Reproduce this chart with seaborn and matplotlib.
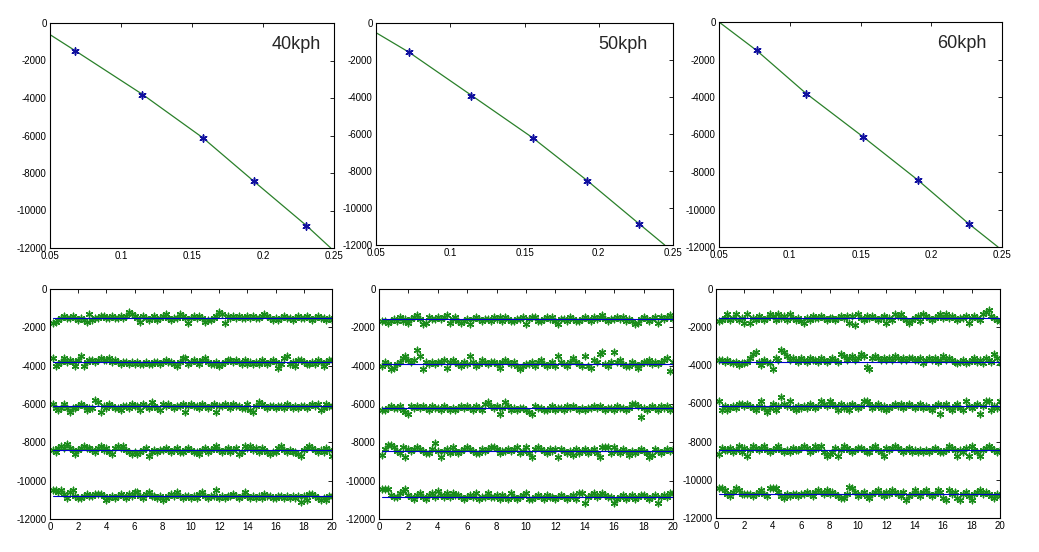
import numpy as np
import pandas as pd
import matplotlib
matplotlib.use("Agg")
import matplotlib.pyplot as plt
import seaborn as sns

sns.set_style("white")
plt.rcParams['font.family'] = ['Liberation Sans', 'DejaVu Sans']
plt.rcParams['axes.unicode_minus'] = False

#==============================================================================
# DATA - top row: measured points (blue stars) and fitted curve (green)
#==============================================================================
speeds = ['40kph', '50kph', '60kph']

pts_x_40 = [0.0676, 0.115, 0.1576, 0.194, 0.2305]
pts_y_40 = [-1493, -3822, -6133, -8444, -10809]
fit_x_40 = [0.05, 0.0676, 0.115, 0.1576, 0.194, 0.2305, 0.2477]
fit_y_40 = [-620, -1470, -3800, -6120, -8470, -10800, -12000]

pts_x_50 = [0.072, 0.1139, 0.1556, 0.1924, 0.2271]
pts_y_50 = [-1583, -3921, -6223, -8525, -10845]
fit_x_50 = [0.05, 0.072, 0.1139, 0.1556, 0.1924, 0.2271, 0.2444]
fit_y_50 = [-522, -1570, -3890, -6210, -8530, -10850, -12000]

pts_x_60 = [0.0768, 0.1112, 0.1521, 0.1907, 0.2265]
pts_y_60 = [-1511, -3822, -6133, -8444, -10756]
fit_x_60 = [0.05, 0.0768, 0.1112, 0.1521, 0.1907, 0.2265, 0.2472]
fit_y_60 = [0, -1530, -3790, -6140, -8440, -10760, -12000]

#==============================================================================
# DATA - bottom row: time histories (offsets from the level, in units of 100)
#==============================================================================
time_step = 0.2
levels_40 = [-1500, -3800, -6100, -8400, -10800]
levels_50 = [-1550, -3900, -6200, -8450, -10850]
levels_60 = [-1500, -3800, -6150, -8450, -10750]

dev_40_1 = [-3,-2,-1,0,1,0,0,1,0,-1, 0,-1,-2,2,-1,0,0,1,1,0, 0,1,0,0,1,0,1,3,2,1, 0,-2,1,0,-1,0,1,-1,0,1,
            2,0,-1,0,0,2,1,0,-3,0, 1,0,1,0,-2,-1,-1,0,1,3, 2,-3,1,0,1,0,1,0,0,1, 0,1,0,0,1,2,1,0,-1,0,
            -1,0,1,0,0,-1,0,1,0,0, 1,0,-1,0,1,0,0,-1,0,-1]
dev_40_2 = [2,-2,-1,0,2,0,1,0,-2,1, 3,-2,0,1,1,0,1,2,1,1, 2,0,1,0,-1,0,0,-1,0,-1, 0,-1,-1,0,-1,-1,0,0,-1,0,
            1,0,0,-1,-2,0,2,2,-1,0, 1,0,-1,1,2,0,-1,-1,0,-2, -1,0,1,1,0,1,0,-1,1,-1, 0,-1,0,-1,1,0,-1,0,1,0,
            -3,-1,2,3,-1,0,-2,1,1,0, -1,-1,0,-1,1,0,-2,0,1,1]
dev_40_3 = [1,-1,-2,-1,1,-1,-3,-1,-1,0, 1,0,-2,-1,-1,3,2,-3,0,-1, 1,0,-1,-1,-2,0,0,-1,1,0, 0,-2,1,0,-1,2,0,-1,-2,1,
            0,1,0,-1,0,0,1,-3,0,1, 0,0,-1,1,0,-1,0,1,-3,0, 0,1,0,-1,1,0,0,-1,-1,1, -2,-3,0,2,1,0,-1,0,0,-1,
            0,0,-1,1,0,-1,0,-1,0,0, -1,0,1,0,1,-2,-1,1,0,0]
dev_40_4 = [0,-1,1,2,1,3,1,0,-2,0, 1,2,1,1,0,-1,1,2,0,1, -1,-2,1,2,1,2,0,-1,-2,-1, -2,-1,0,1,-3,-1,0,-1,0,0,
            1,0,-1,0,1,-1,-1,0,1,0, -1,-1,-2,0,1,-1,0,1,2,0, -1,0,1,-1,0,1,-2,-1,2,1, 2,0,1,-1,1,0,-1,-2,-1,-1,
            1,2,0,-1,0,-1,-1,-2,-3,0, 1,2,1,0,-1,0,-1,1,0,-3]
dev_40_5 = [3,3,2,3,1,-1,2,3,0,-1, -1,0,1,0,0,1,1,1,0,-2, -1,0,-1,0,1,0,-1,1,0,2, 2,0,-1,1,2,0,0,-1,0,-2,
            -1,0,1,0,2,0,-1,0,0,-1, 0,-1,1,2,0,-1,0,0,3,-1, 0,-1,0,0,1,0,-1,0,2,0, -1,0,-1,0,-1,1,0,0,-1,-1,
            0,0,-1,0,-1,0,-1,0,-3,0, -2,1,1,0,-1,-2,-1,-2,0,0]

dev_50_1 = [-1,-1,-2,-1,0,-1,1,-1,0,-2, 0,1,2,0,-3,-2,1,0,0,1, 0,1,2,-2,0,1,-1,-2,-1,0, -3,0,1,0,-1,0,0,-1,1,0,
            1,-1,1,0,-1,-1,0,0,1,-3, 0,1,1,-1,-1,0,1,0,1,-1, -3,0,0,-1,1,0,-1,-1,0,1, 0,-1,1,0,1,2,0,-1,0,0,
            1,0,1,-1,0,-1,-3,-2,0,1, 0,-1,0,1,-2,1,0,1,2,0]
dev_50_2 = [-1,1,0,-3,-2,0,1,3,4,2, 1,2,7,4,-3,1,0,1,0,1, 1,2,-2,1,2,1,0,-1,1,0, 4,1,-1,0,2,1,0,1,1,0,
            -2,1,2,1,0,1,-1,-3,-1,0, 0,1,-1,1,2,0,-1,0,1,-1, 4,1,0,-1,1,3,1,0,-1,4, -1,-2,2,1,5,6,0,-1,1,6,
            1,2,0,-1,-1,1,0,-2,0,1, 1,2,0,1,0,1,2,3,-4,1]
dev_50_3 = [-1,-1,0,1,0,0,1,-1,-2,-3, 1,0,1,0,1,0,-1,1,0,0, -1,1,0,-1,0,-1,0,1,0,1, 0,-1,1,0,-1,2,3,1,0,1,
            -3,0,3,1,-1,0,-1,0,0,-1, -2,-3,1,0,0,-1,-1,0,1,-1, 0,0,-1,1,0,1,0,-1,0,-1, 0,0,1,0,1,0,-1,0,0,-1,
            1,0,0,-1,0,2,2,1,-5,0, -1,0,1,0,-1,1,0,1,-1,0]
dev_50_4 = [-2,1,3,3,2,0,-1,2,-3,1, 0,1,2,1,0,-1,-1,1,4,0, -3,0,1,-1,2,0,-1,0,1,2, 1,0,-1,-1,1,0,1,2,2,1,
            -1,0,0,1,0,1,2,-1,0,2, -1,-3,1,2,1,0,-1,1,0,1, -3,1,0,-1,0,-2,1,-1,0,1, -1,0,1,-1,-3,2,2,2,-1,2,
            0,-1,1,0,-2,0,-1,0,1,0, -1,-3,-2,1,0,-1,0,1,0,1]
dev_50_5 = [4,4,4,1,0,0,2,3,4,1, 0,-1,1,2,0,-1,1,2,0,3, 1,0,2,0,2,1,1,0,-1,0, 1,0,2,-1,0,0,2,0,0,1,
            -1,1,0,-1,2,0,-1,0,1,2, -1,-1,0,1,0,-1,1,0,0,-1, 0,1,0,-1,0,1,-1,2,2,-3, 0,1,2,0,1,2,1,0,0,-3,
            -1,0,1,-1,0,1,-1,0,1,1, 0,-1,0,1,-3,0,1,0,2,2]

dev_60_1 = [-2,-1,0,2,-1,0,2,-1,0,-3, 2,-3,0,-1,1,0,-1,0,2,1, -1,2,0,1,-1,2,0,-1,0,-2, -3,0,-1,1,0,0,1,0,-1,0,
            0,-1,0,1,0,1,-3,1,-4,2, 0,-1,1,0,1,0,-1,0,1,-3, 0,-1,2,1,2,0,-1,-3,-1,0, 1,-2,2,1,0,-1,0,1,2,0,
            2,0,1,0,-1,0,0,1,-3,0, 1,0,-1,2,3,4,1,0,-1,-2]
dev_60_2 = [1,1,0,1,0,-1,0,-2,-1,-1, 0,2,4,5,0,-2,1,0,-1,-4, 2,1,6,5,3,1,2,1,0,2, 1,0,2,1,1,0,2,1,0,1,
            2,1,0,4,3,1,2,3,1,2, 4,3,-3,-4,2,3,2,1,2,1, 2,1,3,2,1,2,1,2,2,1, 1,2,-1,1,2,1,2,0,1,3,
            1,2,1,0,-1,0,1,-1,0,1, 2,0,1,-1,2,1,0,4,2,-1]
dev_60_3 = [3,-2,0,-2,-1,0,-1,1,1,0, 1,0,-1,-2,0,3,-1,-3,-1,1, -2,0,5,1,0,3,-1,-2,0,-1, 0,-1,1,0,-1,0,3,1,0,3,
            1,0,-2,1,-1,0,-2,1,0,-1, 0,3,3,1,-1,0,1,-1,0,-2, -1,0,1,0,1,-1,0,1,0,-1, 0,1,-1,0,-1,-2,0,1,-4,0,
            1,-1,-2,0,1,-1,-2,3,0,-1, 0,1,-4,0,3,3,-2,0,-1,3]
dev_60_4 = [-2,1,0,0,1,-1,0,2,-1,1, -3,0,2,1,0,1,2,0,-1,0, 1,2,0,-1,0,-1,1,0,0,1, 2,1,-1,0,2,1,2,-1,-3,-2,
            -1,1,-3,0,2,1,0,-1,0,1, 1,0,-1,-1,1,2,0,-1,-3,1, 0,1,2,1,0,-1,0,1,-1,0, -1,0,-1,0,-1,0,1,0,-1,-1,
            0,2,1,0,-3,0,-1,1,-3,2, 0,-1,-3,0,1,2,1,0,-1,0]
dev_60_5 = [3,3,2,0,-1,1,3,2,0,0, 0,0,-1,0,1,2,0,-1,3,3, 3,1,-1,-2,0,-1,0,0,-1,0, 0,1,0,-1,1,2,1,0,2,0,
            1,0,-1,-2,-2,0,4,3,1,-1, 0,1,-1,-2,0,1,2,0,-1,1, 0,2,1,0,-1,1,-3,-1,0,2, 0,-1,1,2,0,-1,0,2,1,-2,
            -3,2,0,1,-2,-3,0,1,-1,-3, 0,1,2,0,1,0,-1,-2,0,-1]

top_data = [(pts_x_40, pts_y_40, fit_x_40, fit_y_40),
            (pts_x_50, pts_y_50, fit_x_50, fit_y_50),
            (pts_x_60, pts_y_60, fit_x_60, fit_y_60)]
bottom_data = [(levels_40, [dev_40_1, dev_40_2, dev_40_3, dev_40_4, dev_40_5]),
               (levels_50, [dev_50_1, dev_50_2, dev_50_3, dev_50_4, dev_50_5]),
               (levels_60, [dev_60_1, dev_60_2, dev_60_3, dev_60_4, dev_60_5])]

#==============================================================================
# LAYOUT (axes boxes in pixels: left, right, top, bottom)
#==============================================================================
W, H = 1039, 552
fig = plt.figure(figsize=(W / 100, H / 100), dpi=100)

top_boxes = [(50, 334, 23, 248), (376, 673, 23, 245), (719, 1002, 22, 247)]
bottom_boxes = [(50, 332, 289, 519), (379, 673, 289, 519), (716, 1000, 289, 518)]
label_x = [0.955, 0.915, 0.945]
asterisk = (6, 2, 0)

def make_ax(box):
    l, r, t, b = box
    ax = fig.add_axes([l / W, 1 - b / H, (r - l) / W, (b - t) / H])
    ax.tick_params(direction='in', length=3, width=0.6, top=True, right=True,
                   labelsize=7, pad=2.5, colors='black')
    for sp in ax.spines.values():
        sp.set_color('black')
        sp.set_linewidth(0.8)
    ax.set_ylim(-12000, 0)
    ax.set_yticks(range(-12000, 1, 2000))
    return ax

# top row: measured points + fitted curve
for i, (px, py, fx, fy) in enumerate(top_data):
    ax = make_ax(top_boxes[i])
    sns.lineplot(x=fx, y=fy, ax=ax, color='#2a802a', linewidth=0.9, sort=False)
    sns.scatterplot(x=px, y=py, ax=ax, marker=asterisk, s=26, color='#1010a0',
                    linewidth=1.1, zorder=3)
    ax.set_xlim(0.05, 0.25)
    ax.set_xticks([0.05, 0.1, 0.15, 0.2, 0.25])
    ax.set_xticklabels(['0.05', '0.1', '0.15', '0.2', '0.25'])
    ax.set_xlabel('')
    ax.set_ylabel('')
    ax.text(label_x[i], 0.905, speeds[i], transform=ax.transAxes,
            ha='right', va='center', fontsize=13)

# bottom row: time histories
for i, (levels, devs) in enumerate(bottom_data):
    ax = make_ax(bottom_boxes[i])
    for lev, dev in zip(levels, devs):
        t = time_step * (np.arange(len(dev)) + 1)
        df = pd.DataFrame({'t': t, 'y': lev + 100 * np.array(dev)})
        sns.scatterplot(data=df, x='t', y='y', ax=ax, marker=asterisk, s=22,
                        color='#1a8c1a', linewidth=1.0, zorder=2)
        sns.lineplot(x=[0.2, 20], y=[lev, lev], ax=ax, color='#0000cc', linewidth=0.8, zorder=3)
    ax.set_xlim(0, 20)
    ax.set_xticks(range(0, 21, 2))
    ax.set_xlabel('')
    ax.set_ylabel('')

fig.savefig('out.png', dpi=100)
